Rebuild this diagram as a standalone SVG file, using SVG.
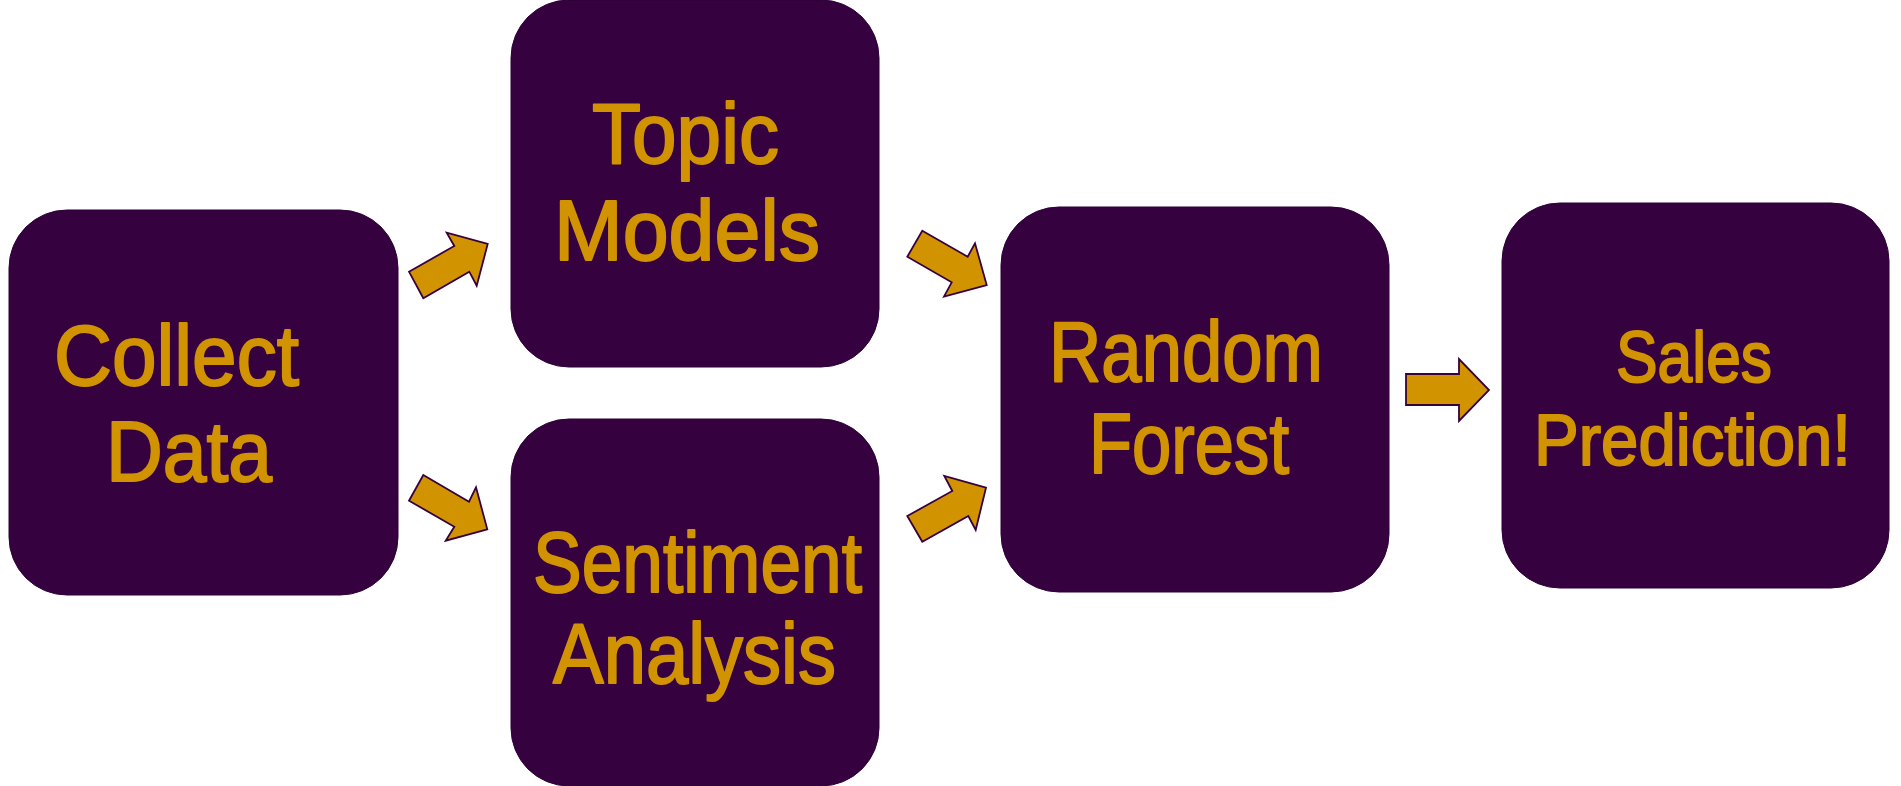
<svg xmlns="http://www.w3.org/2000/svg" width="1901" height="786" viewBox="0 0 1901 786">
<style>
.box{fill:#36013F;stroke:#2C0038;stroke-width:1}
.lbl{font-family:"Liberation Sans",Arial,sans-serif;font-size:85px;fill:#D19300;stroke:#D19300;stroke-width:2;stroke-linejoin:round}
.small{font-size:73px}
.arrow{fill:#D19300;stroke:#36013F;stroke-width:1.8;stroke-linejoin:miter}
</style>
<rect width="1901" height="786" fill="#FFFFFF"/>
<g id="collect-data">
<rect class="box" x="9" y="210" width="389" height="385" rx="58" ry="58"/>
<text class="lbl" x="54" y="385" textLength="245" lengthAdjust="spacingAndGlyphs">Collect</text>
<text class="lbl" x="106" y="481" textLength="166" lengthAdjust="spacingAndGlyphs">Data</text>
</g>
<g id="topic-models">
<rect class="box" x="511" y="0" width="368" height="367" rx="58" ry="58"/>
<text class="lbl" x="592" y="163" textLength="187" lengthAdjust="spacingAndGlyphs">Topic</text>
<text class="lbl" x="554" y="260" textLength="266" lengthAdjust="spacingAndGlyphs">Models</text>
</g>
<g id="sentiment-analysis">
<rect class="box" x="511" y="419" width="368" height="367" rx="58" ry="58"/>
<text class="lbl" x="533" y="592" textLength="329" lengthAdjust="spacingAndGlyphs">Sentiment</text>
<text class="lbl" x="553" y="683" textLength="283" lengthAdjust="spacingAndGlyphs">Analysis</text>
</g>
<g id="random-forest">
<rect class="box" x="1001" y="207" width="388" height="385" rx="58" ry="58"/>
<text class="lbl" x="1049" y="381" textLength="274" lengthAdjust="spacingAndGlyphs">Random</text>
<text class="lbl" x="1089" y="473" textLength="200" lengthAdjust="spacingAndGlyphs">Forest</text>
</g>
<g id="sales-prediction">
<rect class="box" x="1502" y="203" width="387" height="385" rx="58" ry="58"/>
<text class="lbl small" x="1616" y="382" textLength="156" lengthAdjust="spacingAndGlyphs">Sales</text>
<text class="lbl small" x="1534" y="465" textLength="317" lengthAdjust="spacingAndGlyphs">Prediction!</text>
</g>
<g id="connectors">
<polygon class="arrow" points="409,271.7 454.3,246 446.7,232.7 487.7,244 476.7,285.7 469.3,271.7 423.3,298.3"/>
<polygon class="arrow" points="423.3,475 469,501.7 476,487.3 487.3,529.3 445.7,540.7 454.3,526.7 409,500.7"/>
<polygon class="arrow" points="922.3,230.7 967.7,256.7 975,243.3 986.7,285 944,296.7 951.7,282.3 907.3,256.7"/>
<polygon class="arrow" points="907.3,516 952.3,491 944.3,476 986,487.7 975.7,530 968.3,516 922.3,541.7"/>
<polygon class="arrow" points="1406,374 1459,374 1459,359 1489,390 1459,421 1459,405 1406,405"/>
</g>
</svg>
